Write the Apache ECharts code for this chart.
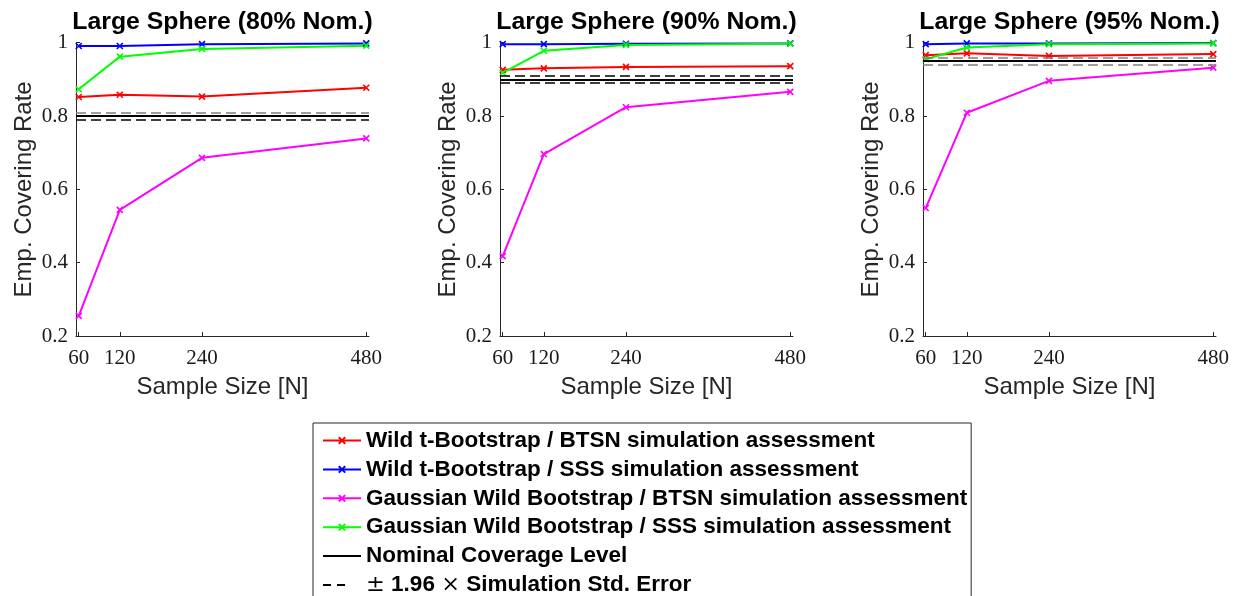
<!DOCTYPE html>
<html>
<head>
<meta charset="utf-8">
<script src="https://cdn.jsdelivr.net/npm/echarts@6/dist/echarts.min.js"></script>
<style>
html,body{margin:0;padding:0;background:#fff;}
#chart{width:1238px;height:596px;}
</style>
</head>
<body>
<div id="chart"></div>
<script>
// ---- data ----
const sampleSizes = [60, 120, 240, 480];
const xTickValues = [60, 120, 240, 480];
const panelTitles = ['Large Sphere (80% Nom.)', 'Large Sphere (90% Nom.)', 'Large Sphere (95% Nom.)'];
const seriesNames = [
  'Wild t-Bootstrap / BTSN simulation assessment',
  'Wild t-Bootstrap / SSS simulation assessment',
  'Gaussian Wild Bootstrap / BTSN simulation assessment',
  'Gaussian Wild Bootstrap / SSS simulation assessment'
];
const nominalName = 'Nominal Coverage Level';
const seName = '± 1.96 × Simulation Std. Error';
const wildBTSN  = [[0.852, 0.858, 0.853, 0.877], [0.926, 0.930, 0.934, 0.936], [0.966, 0.971, 0.964, 0.969]];
const wildSSS   = [[0.991, 0.991, 0.996, 0.998], [0.996, 0.996, 0.997, 0.998], [0.996, 0.998, 0.998, 0.999]];
const gaussBTSN = [[0.255, 0.544, 0.686, 0.739], [0.418, 0.696, 0.824, 0.866], [0.549, 0.809, 0.896, 0.932]];
const gaussSSS  = [[0.873, 0.962, 0.983, 0.992], [0.918, 0.978, 0.994, 0.997], [0.955, 0.987, 0.996, 0.998]];
const nominal = [0.80, 0.90, 0.95];
const seUpper = [0.815, 0.911, 0.958];
const seLower = [0.785, 0.890, 0.942];

// ---- styling / layout ----
const colors = ['#ff0000', '#0000ff', '#ff00ff', '#00ff00'];
const gridLefts = [76, 500, 923];
const gridTop = 42.7, gridW = 293, gridH = 293.3;
const upperDashColor = ['#808080', '#000000', '#808080'];
const lowerDashColor = ['#000000', '#000000', '#808080'];
const xSymbol = 'path://M0,0L10,10M10,0L0,10';
const hiddenSymbol = 'path://M0,0L1,1';
const axisColor = '#262626';
const tickFont = 'Liberation Serif';
const sansFont = 'Liberation Sans';

const allValues = [wildBTSN, wildSSS, gaussBTSN, gaussSSS];

const grids = [], xAxes = [], yAxes = [], titles = [], series = [];
for (let p = 0; p < 3; p++) {
  grids.push({left: gridLefts[p], top: gridTop, width: gridW, height: gridH, containLabel: false});
  titles.push({
    text: panelTitles[p], left: gridLefts[p] + gridW / 2, top: 10, textAlign: 'center', padding: 0,
    textStyle: {fontFamily: sansFont, fontWeight: 'bold', fontSize: 24.8, color: '#000'}
  });
  xAxes.push({
    type: 'value', gridIndex: p, min: 56, max: 484,
    name: 'Sample Size [N]', nameLocation: 'middle', nameGap: 39,
    nameTextStyle: {fontFamily: sansFont, fontSize: 24, color: axisColor},
    splitLine: {show: false},
    axisLine: {show: true, onZero: false, lineStyle: {color: axisColor, width: 1}},
    axisTick: {show: true, inside: true, length: 4, customValues: xTickValues, lineStyle: {color: axisColor}},
    axisLabel: {show: true, customValues: xTickValues, margin: 12, fontFamily: tickFont, fontSize: 21, color: '#1a1a1a'}
  });
  yAxes.push({
    type: 'value', gridIndex: p, min: 0.2, max: 1, interval: 0.2,
    name: 'Emp. Covering Rate', nameLocation: 'middle', nameGap: 40, nameRotate: 90,
    nameTextStyle: {fontFamily: sansFont, fontSize: 24, color: axisColor},
    splitLine: {show: false},
    axisLine: {show: true, onZero: false, lineStyle: {color: axisColor, width: 1}},
    axisTick: {show: true, inside: true, length: 4, lineStyle: {color: axisColor}},
    axisLabel: {show: true, margin: 8, fontFamily: tickFont, fontSize: 21, color: '#1a1a1a',
      formatter: v => String(Math.round(v * 10) / 10)}
  });
  // reference lines
  series.push({
    name: seName, type: 'line', xAxisIndex: p, yAxisIndex: p, data: [],
    symbol: hiddenSymbol, symbolSize: 0,
    lineStyle: {color: '#000', type: [8, 6, 8, 40], width: 1.2},
    itemStyle: {color: 'rgba(0,0,0,0)', borderWidth: 0},
    markLine: {
      silent: true, symbol: 'none', label: {show: false}, animation: false,
      data: [
        {yAxis: seUpper[p], lineStyle: {color: upperDashColor[p], type: [10, 5], width: 1.5}},
        {yAxis: seLower[p], lineStyle: {color: lowerDashColor[p], type: [10, 5], width: 1.5}}
      ]
    }
  });
  series.push({
    name: nominalName, type: 'line', xAxisIndex: p, yAxisIndex: p, data: [],
    symbol: hiddenSymbol, symbolSize: 0,
    lineStyle: {color: '#000', width: 1.8},
    itemStyle: {color: 'rgba(0,0,0,0)', borderWidth: 0},
    markLine: {
      silent: true, symbol: 'none', label: {show: false}, animation: false,
      data: [{yAxis: nominal[p], lineStyle: {color: '#000', type: 'solid', width: 2}}]
    }
  });
  for (let s = 0; s < 4; s++) {
    series.push({
      name: seriesNames[s], type: 'line', xAxisIndex: p, yAxisIndex: p,
      data: sampleSizes.map((n, i) => [n, allValues[s][p][i]]),
      symbol: xSymbol, symbolSize: 6, showSymbol: true,
      lineStyle: {color: colors[s], width: 2},
      itemStyle: {color: colors[s], borderColor: colors[s], borderWidth: 1.6},
      emphasis: {disabled: true}
    });
  }
}

const chart = echarts.init(document.getElementById('chart'), null, {renderer: 'canvas'});
chart.setOption({
  animation: false,
  backgroundColor: '#fff',
  title: titles,
  grid: grids,
  xAxis: xAxes,
  yAxis: yAxes,
  legend: {
    data: seriesNames.concat([nominalName, seName]),
    orient: 'vertical', left: 313, top: 423, height: 190,
    padding: [6, 4, 6, 9],
    itemWidth: 38, itemHeight: 8, itemGap: 5.9,
    backgroundColor: '#fff', borderColor: axisColor, borderWidth: 1, borderRadius: 0,
    selectedMode: false,
    textStyle: {
      fontFamily: sansFont, fontWeight: 'bold', fontSize: 22.5, color: '#000',
      rich: {n: {fontFamily: 'DejaVu Serif', fontWeight: 'normal', fontSize: 22.5, color: '#000'}}
    },
    formatter: name => name === seName ? '{n|±} 1.96 {n|×} Simulation Std. Error' : name
  },
  series: series
});
</script>
</body>
</html>
